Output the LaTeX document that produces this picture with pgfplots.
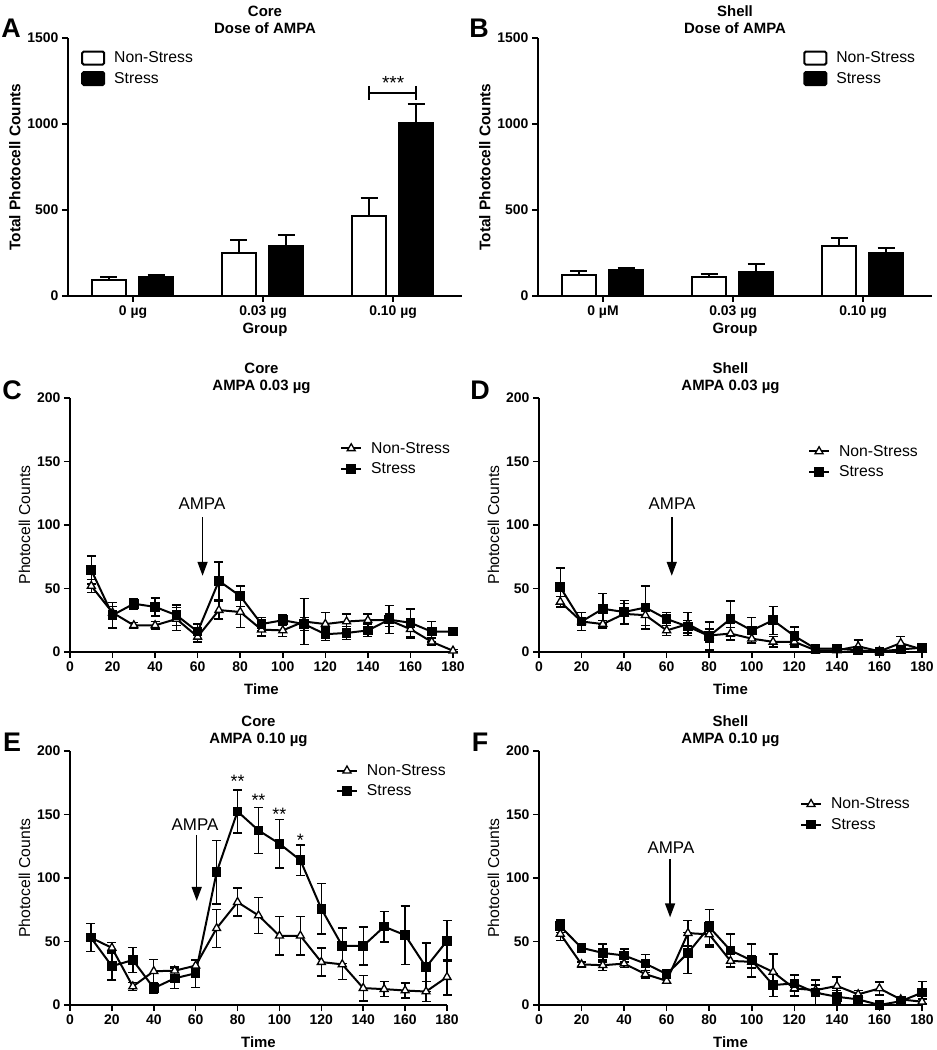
\documentclass[border=0pt]{standalone}
\usepackage{pgfplots}
\pgfplotsset{compat=1.18}
\usepackage{pgfplotstable}
\usepackage{fontspec}
\setmainfont{Liberation Sans}
\usetikzlibrary{arrows.meta}

\newcommand{\fs}[1]{\fontsize{#1}{#1}\selectfont}

% time course data: t, mean, sem
\pgfplotstableread{
t y e
10 52 5
20 31 5
30 21 2
40 21 3
50 26 9
60 12 4
70 33 7
80 31.5 12
90 17.6 5
100 17 5
110 24 18
120 22 9
130 24 6
140 25 5
150 25 5
160 18 7
170 8 3
180 1 1
}\cNS
\pgfplotstableread{
t y e
10 64.5 11
20 29 10
30 38 4
40 35.5 7
50 29 8
60 16 6
70 56 15
80 44 8
90 22 5
100 25 4
110 22 5
120 14 5
130 15 5
140 17 5
150 25.5 11
160 23 11
170 16 8
180 16 2
}\cST
\pgfplotstableread{
t y e
10 39.5 4
20 24 3
30 22 3
40 30 8
50 29 8
60 17 4
70 22 9
80 13 5
90 14.5 5
100 10.5 4
110 8 4
120 8 4
130 1.3 2
140 1.3 1
150 4.5 5
160 0.5 1
170 7 5
180 2 2
}\dNS
\pgfplotstableread{
t y e
10 51 15
20 24 7
30 34 12
40 31.5 9
50 35 17
60 26 5
70 20 5
80 12.6 11
90 26 14
100 17 10
110 25 11
120 12.6 7
130 2.6 2
140 2.6 2
150 1.3 2
160 0.5 1
170 2 2
180 3.4 2
}\dST
\pgfplotstableread{
t y e
10 53 11
20 45 4
30 14.6 3
40 26.6 9
50 27 3
60 31 4
70 60.4 15
80 81 11
90 70.5 14
100 54.5 15
110 54.5 15
120 33.8 11
130 32 12
140 13.3 10
150 12.5 6
160 11.4 6
170 10.6 8
180 22 14
}\eNS
\pgfplotstableread{
t y e
10 53 11
20 30.6 11
30 35.4 10
40 13.3 4
50 21 8
60 25 11
70 104.5 25
80 152.4 17
90 137.5 18
100 127 19
110 114 12
120 75.8 20
130 46.5 14
140 46.5 15
150 61.7 12
160 55 23
170 29.8 19
180 50.5 16
}\eST
\pgfplotstableread{
t y e
10 56 5
20 32 2
30 31.3 4
40 32.6 3
50 24.3 3
60 19 2
70 56.6 10
80 55.6 10
90 34.7 5
100 34 5
110 26 14
120 13 6
130 11.7 4
140 15 7
150 8.4 3
160 13 5
170 4.4 2
180 2.6 2
}\fNS
\pgfplotstableread{
t y e
10 62 5
20 45 3
30 41 7
40 39 5
50 32.6 7
60 24.3 3
70 41 16
80 61.4 14
90 43 13
100 35 13
110 15.7 9
120 17 6.5
130 9.7 10
140 6.5 5
150 4.4 3
160 0 1
170 3 2
180 9.7 9
}\fST

\pgfplotsset{
  base/.style={
    scale only axis, anchor=south west,
    axis lines*=left,
    axis line style={line width=1.6bp},
    every tick/.style={line width=1.6bp, black},
    major tick length=6bp,
    tick align=outside,
    tick label style={font=\bfseries\fs{14}},
    /pgf/number format/assume math mode=true,
    /pgf/number format/set thousands separator={},
    xlabel style={font=\bfseries\fs{15}},
    title style={font=\bfseries\fontsize{15}{17.5}\selectfont, align=center, yshift=-5.5bp},
    clip=false,
    legend style={draw=none, fill=none, font=\fs{15.8}, anchor=north west,
      inner sep=0pt, row sep=4bp, nodes={inner sep=2bp}},
    legend cell align=left,
  },
  barax/.style={base, width=394bp, height=258bp,
    xmin=-0.5, xmax=2.53, ymin=0, ymax=1500,
    ytick={0,500,1000,1500}, xtick={0,1,2},
    ylabel={Total Photocell Counts}, xlabel={Group},
    ylabel style={font=\bfseries\fs{15.5}},
    xlabel style={yshift=2bp}},
  lineax/.style={base, height=254bp,
    xmin=0, xmax=180, ymin=0, ymax=200,
    xtick={0,20,...,180}, ytick={0,50,...,200},
    ylabel={Photocell Counts}, xlabel={Time},
    ylabel style={font=\fs{15.8}},
    xlabel style={yshift=-5bp}},
  nsbar/.style={ybar, bar width=34bp, bar shift=0bp, fill=white, draw=black, line width=2bp,
    legend image code/.code={\draw[line width=2bp, fill=white, rounded corners=1.5bp] (0bp,-6.5bp) rectangle (22bp,6.5bp); \path[draw=none, fill=none] (0bp,0bp) -- (30bp,0bp);},
    error bars/.cd, y dir=plus, y explicit,
    error bar style={line width=2bp},
    error mark options={rotate=90, mark size=8.5bp, line width=2bp}},
  stbar/.style={ybar, bar width=34bp, bar shift=0bp, fill=black, draw=black, line width=2bp,
    legend image code/.code={\draw[line width=2bp, fill=black, rounded corners=1.5bp] (0bp,-6.5bp) rectangle (22bp,6.5bp); \path[draw=none, fill=none] (0bp,0bp) -- (30bp,0bp);},
    error bars/.cd, y dir=plus, y explicit,
    error bar style={line width=2bp},
    error mark options={rotate=90, mark size=8.5bp, line width=2bp}},
  ns/.style={black, line width=2bp, mark=triangle*, mark size=4.6bp,
    mark options={fill=white, line width=1.3bp},
    legend image code/.code={\draw[mark repeat=2, mark phase=2, ##1] plot coordinates {(0bp,0bp) (10bp,0bp) (20bp,0bp)}; \path[draw=none, fill=none] (0bp,0bp) -- (28bp,0bp);},
    error bars/.cd, y dir=both, y explicit,
    error bar style={line width=1.4bp},
    error mark options={rotate=90, mark size=4.5bp, line width=1.4bp}},
  st/.style={black, line width=2bp, mark=square*, mark size=3.8bp,
    mark options={fill=black},
    legend image code/.code={\draw[mark repeat=2, mark phase=2, ##1] plot coordinates {(0bp,0bp) (10bp,0bp) (20bp,0bp)}; \path[draw=none, fill=none] (0bp,0bp) -- (28bp,0bp);},
    error bars/.cd, y dir=both, y explicit,
    error bar style={line width=1.4bp},
    error mark options={rotate=90, mark size=4.5bp, line width=1.4bp}},
}

\begin{document}
\begin{tikzpicture}
\useasboundingbox (0,0) rectangle (937bp,1050bp);

% panel letters
\node[font=\bfseries\fs{27}] at (11bp,1022bp) {A};
\node[font=\bfseries\fs{27}] at (479bp,1022bp) {B};
\node[font=\bfseries\fs{27}] at (12bp,660bp) {C};
\node[font=\bfseries\fs{27}] at (480bp,660bp) {D};
\node[font=\bfseries\fs{27}] at (12bp,308bp) {E};
\node[font=\bfseries\fs{27}] at (480bp,308bp) {F};

% A
\begin{axis}[barax, at={(68bp,754bp)},
  xticklabels={0 µg, 0.03 µg, 0.10 µg},
  title={Core\\Dose of AMPA},
  legend style={at={(0.033,0.955)}}]
\addplot[nsbar] coordinates {(-0.185,95) +- (0,15) (0.815,252) +- (0,72) (1.815,465) +- (0,107)};
\addlegendentry{Non-Stress}
\addplot[stbar] coordinates {(0.177,112) +- (0,10) (1.177,293) +- (0,60) (2.177,1006) +- (0,108)};
\addlegendentry{Stress}
\draw[line width=2bp] (axis cs:1.815,1221) -- (axis cs:1.815,1140)
  (axis cs:1.815,1182) -- (axis cs:2.177,1182)
  (axis cs:2.177,1221) -- (axis cs:2.177,1140);
\node[font=\fs{19}] at (axis cs:2.0,1240) {***};
\end{axis}

% B
\begin{axis}[barax, at={(538bp,754bp)},
  xticklabels={0 µM, 0.03 µg, 0.10 µg},
  title={Shell\\Dose of AMPA},
  legend style={at={(0.673,0.955)}}]
\addplot[nsbar] coordinates {(-0.185,120) +- (0,23) (0.815,108) +- (0,18) (1.815,289) +- (0,48)};
\addlegendentry{Non-Stress}
\addplot[stbar] coordinates {(0.177,153) +- (0,12) (1.177,140) +- (0,48) (2.177,252) +- (0,27)};
\addlegendentry{Stress}
\end{axis}

% C
\begin{axis}[lineax, width=383bp, at={(70bp,398bp)},
  title={Core\\AMPA 0.03 µg},
  legend style={at={(0.705,0.835)}}]
\addplot[ns] table[x=t, y=y, y error=e] {\cNS};
\addlegendentry{Non-Stress}
\addplot[st] table[x=t, y=y, y error=e] {\cST};
\addlegendentry{Stress}
\node[font=\fs{17}] at (axis cs:62,117) {AMPA};
\draw[line width=1.5bp, -{Triangle[length=14bp,width=10bp]}] (axis cs:62.3,106) -- (axis cs:62.3,60);
\end{axis}

% D
\begin{axis}[lineax, width=383bp, at={(539bp,398bp)},
  title={Shell\\AMPA 0.03 µg},
  legend style={at={(0.702,0.823)}}]
\addplot[ns] table[x=t, y=y, y error=e] {\dNS};
\addlegendentry{Non-Stress}
\addplot[st] table[x=t, y=y, y error=e] {\dST};
\addlegendentry{Stress}
\node[font=\fs{17}] at (axis cs:62.5,117) {AMPA};
\draw[line width=1.5bp, -{Triangle[length=14bp,width=10bp]}] (axis cs:62.4,106) -- (axis cs:62.4,60);
\end{axis}

% E
\begin{axis}[lineax, width=377bp, at={(70bp,45bp)},
  title={Core\\AMPA 0.10 µg},
  legend style={at={(0.705,0.956)}}]
\addplot[ns] table[x=t, y=y, y error=e] {\eNS};
\addlegendentry{Non-Stress}
\addplot[st] table[x=t, y=y, y error=e] {\eST};
\addlegendentry{Stress}
\node[font=\fs{17}] at (axis cs:59.7,142) {AMPA};
\draw[line width=1.5bp, -{Triangle[length=14bp,width=10bp]}] (axis cs:60.5,134) -- (axis cs:60.5,82);
\node[font=\fs{18}] at (axis cs:80,176) {**};
\node[font=\fs{18}] at (axis cs:90,161) {**};
\node[font=\fs{18}] at (axis cs:100,150) {**};
\node[font=\fs{18}] at (axis cs:110,130) {*};
\end{axis}

% F
\begin{axis}[lineax, width=383bp, at={(539bp,45bp)},
  title={Shell\\AMPA 0.10 µg},
  legend style={at={(0.681,0.824)}}]
\addplot[ns] table[x=t, y=y, y error=e] {\fNS};
\addlegendentry{Non-Stress}
\addplot[st] table[x=t, y=y, y error=e] {\fST};
\addlegendentry{Stress}
\node[font=\fs{17}] at (axis cs:62,124) {AMPA};
\draw[line width=1.5bp, -{Triangle[length=14bp,width=10bp]}] (axis cs:61.6,115) -- (axis cs:61.6,69);
\end{axis}
\end{tikzpicture}
\end{document}
